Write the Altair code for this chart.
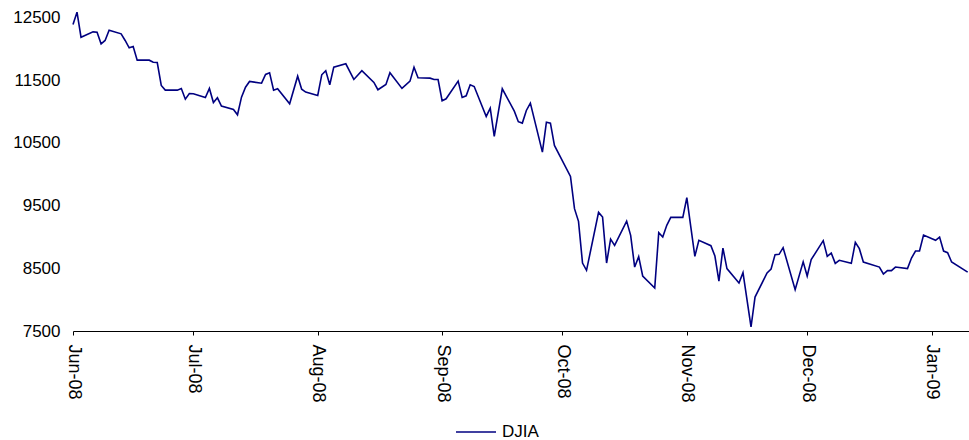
import altair as alt
import pandas as pd

# Daily DJIA closes, June 2008 - January 2009
dates = [
    "2008-06-01", "2008-06-02", "2008-06-03", "2008-06-06", "2008-06-07", "2008-06-08",
    "2008-06-09", "2008-06-10", "2008-06-13", "2008-06-14", "2008-06-15", "2008-06-16",
    "2008-06-17", "2008-06-20", "2008-06-21", "2008-06-22", "2008-06-23", "2008-06-24",
    "2008-06-27", "2008-06-28", "2008-06-29", "2008-06-30", "2008-07-01", "2008-07-04",
    "2008-07-05", "2008-07-06", "2008-07-07", "2008-07-08", "2008-07-11", "2008-07-12",
    "2008-07-13", "2008-07-14", "2008-07-15", "2008-07-18", "2008-07-19", "2008-07-20",
    "2008-07-21", "2008-07-22", "2008-07-25", "2008-07-27", "2008-07-28", "2008-07-29",
    "2008-08-01", "2008-08-02", "2008-08-03", "2008-08-04", "2008-08-05", "2008-08-08",
    "2008-08-10", "2008-08-12", "2008-08-15", "2008-08-16", "2008-08-18", "2008-08-19",
    "2008-08-22", "2008-08-24", "2008-08-25", "2008-08-26", "2008-08-29", "2008-08-30",
    "2008-08-31", "2008-09-01", "2008-09-02", "2008-09-05", "2008-09-06", "2008-09-07",
    "2008-09-08", "2008-09-09", "2008-09-12", "2008-09-13", "2008-09-14", "2008-09-16",
    "2008-09-19", "2008-09-20", "2008-09-21", "2008-09-22", "2008-09-23", "2008-09-26",
    "2008-09-27", "2008-09-28", "2008-09-29", "2008-10-03", "2008-10-04", "2008-10-05",
    "2008-10-06", "2008-10-07", "2008-10-10", "2008-10-11", "2008-10-12", "2008-10-13",
    "2008-10-14", "2008-10-17", "2008-10-18", "2008-10-19", "2008-10-20", "2008-10-21",
    "2008-10-24", "2008-10-25", "2008-10-26", "2008-10-27", "2008-10-28", "2008-10-31",
    "2008-11-01", "2008-11-02", "2008-11-03", "2008-11-04", "2008-11-07", "2008-11-08",
    "2008-11-09", "2008-11-10", "2008-11-11", "2008-11-14", "2008-11-15", "2008-11-17",
    "2008-11-18", "2008-11-21", "2008-11-22", "2008-11-23", "2008-11-24", "2008-11-25",
    "2008-11-28", "2008-11-30", "2008-12-01", "2008-12-02", "2008-12-05", "2008-12-06",
    "2008-12-07", "2008-12-08", "2008-12-09", "2008-12-12", "2008-12-13", "2008-12-14",
    "2008-12-15", "2008-12-19", "2008-12-20", "2008-12-21", "2008-12-22", "2008-12-23",
    "2008-12-26", "2008-12-27", "2008-12-28", "2008-12-29", "2008-12-30", "2009-01-02",
    "2009-01-03", "2009-01-04", "2009-01-05", "2009-01-06", "2009-01-10",
]

djia = [
    12389, 12585, 12186, 12272, 12266, 12081,
    12134, 12298, 12240, 12134, 12017, 12038,
    11820, 11820, 11788, 11783, 11416, 11342,
    11342, 11369, 11198, 11289, 11284, 11225,
    11369, 11145, 11220, 11087, 11034, 10949,
    11230, 11389, 11480, 11453, 11592, 11619,
    11342, 11364, 11125, 11565, 11357, 11310,
    11257, 11587, 11651, 11428, 11708, 11762,
    11512, 11651, 11464, 11348, 11432, 11619,
    11369, 11485, 11708, 11539, 11533, 11512,
    11512, 11173, 11204, 11485, 11225, 11252,
    11428, 11400, 10922, 11055, 10604, 11364,
    11007, 10838, 10816, 11018, 11134, 10353,
    10831, 10816, 10460, 9966, 9451, 9249,
    8584, 8468, 9392, 9317, 8584, 8966,
    8866, 9253, 9025, 8520, 8686, 8377,
    8185, 9068, 8998, 9185, 9312, 9312,
    9626, 9158, 8691, 8946, 8861, 8696,
    8297, 8823, 8495, 8265, 8431, 7564,
    8042, 8425, 8488, 8718, 8723, 8829,
    8160, 8603, 8377, 8638, 8941, 8691,
    8743, 8579, 8627, 8579, 8914, 8813,
    8600, 8520, 8409, 8463, 8463, 8520,
    8495, 8664, 8775, 8775, 9030, 8946,
    8998, 8775, 8750, 8600, 8440,
]

series_name = "DJIA"
y_ticks = [7500, 8500, 9500, 10500, 11500, 12500]
month_starts = [(2008, 6), (2008, 7), (2008, 8), (2008, 9), (2008, 10),
                (2008, 11), (2008, 12), (2009, 1)]

df = pd.DataFrame({"date": dates, "close": djia, "series": series_name})

FONT = "Liberation Sans"

x_enc = alt.X(
    "date:T",
    title=None,
    scale=alt.Scale(
        type="utc",
        domain=[
            alt.DateTime(year=2008, month=6, date=1, utc=True),
            alt.DateTime(year=2009, month=1, date=10, hours=8, utc=True),
        ],
    ),
    axis=alt.Axis(
        values=[alt.DateTime(year=y, month=m, date=1, utc=True) for y, m in month_starts],
        format="%b-%y",
        labelAngle=90,
        labelFontSize=18,
        labelPadding=9,
        tickSize=4,
        grid=False,
        domainColor="black",
        tickColor="black",
        labelColor="black",
    ),
)

y_enc = alt.Y(
    "close:Q",
    title=None,
    scale=alt.Scale(domain=[7500, 12700], nice=False, zero=False),
    axis=alt.Axis(
        values=y_ticks,
        format="d",
        domain=False,
        ticks=False,
        grid=False,
        labelFontSize=17,
        labelPadding=13,
        labelColor="black",
    ),
)

color_enc = alt.Color(
    "series:N",
    scale=alt.Scale(domain=[series_name], range=["#000080"]),
    legend=alt.Legend(
        title=None,
        orient="none",
        legendX=382,
        legendY=406,
        symbolType="stroke",
        symbolSize=1600,
        symbolStrokeWidth=1.6,
        labelFontSize=17,
        labelOffset=5,
        labelColor="black",
    ),
)

chart = (
    alt.Chart(df)
    .mark_line(strokeWidth=1.6)
    .encode(x=x_enc, y=y_enc, color=color_enc)
    .properties(
        width=896,
        height=326,
        autosize=alt.AutoSizeParams(type="none"),
        padding={"left": 73, "top": 5, "right": 0, "bottom": 109},
        background="white",
    )
    .configure_view(stroke=None)
    .configure_axis(labelFont=FONT)
    .configure_legend(labelFont=FONT)
)

chart.save("out.html", embed_options={"renderer": "svg", "actions": False})
